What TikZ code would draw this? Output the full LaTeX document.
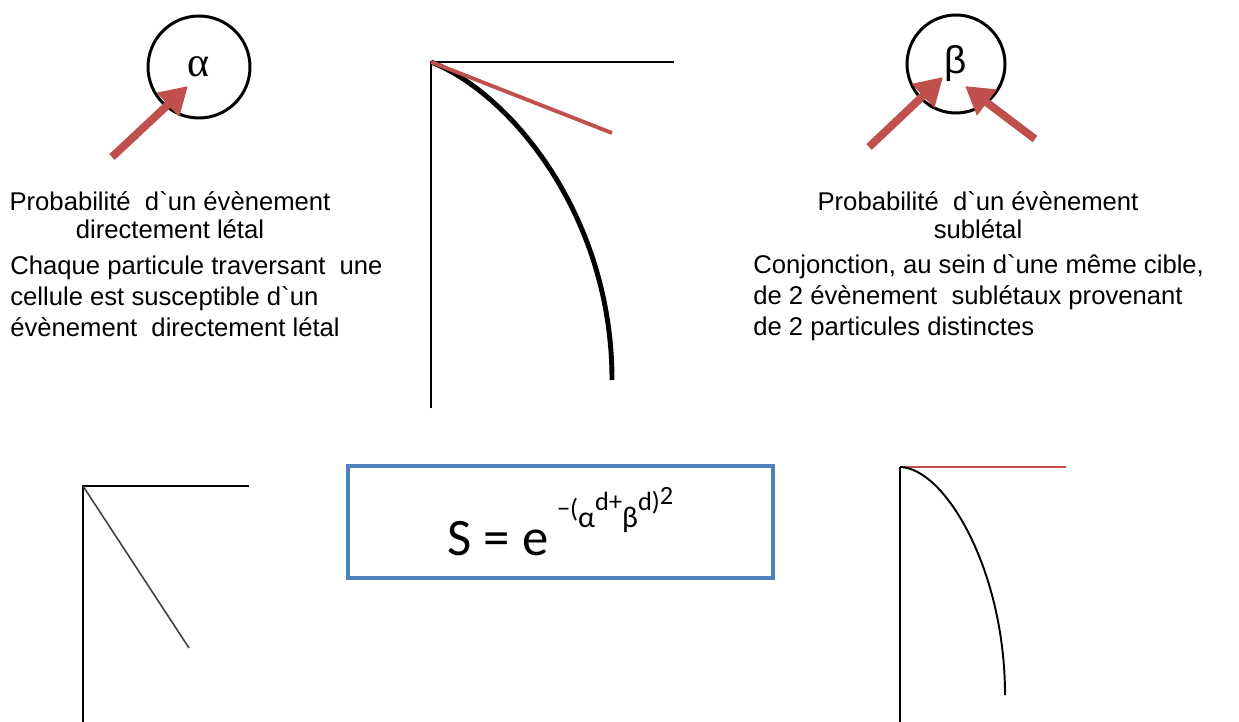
\documentclass[tikz,border=0pt]{standalone}
\usepackage{fontspec}
\setmainfont{Liberation Sans}
\newfontfamily\greekserif{Liberation Serif}
\newfontfamily\eqfont{Carlito}
\usetikzlibrary{positioning,arrows.meta}
\definecolor{HitRed}{RGB}{192,80,77}
\definecolor{FrameBlue}{RGB}{79,129,189}
\tikzset{
  hit/.style={-{Triangle[length=5.5mm,width=6.2mm]},line width=4.5pt,draw=HitRed},
  target/.style={circle,draw,line width=1.7pt,minimum size=2.04cm,inner sep=0pt},
  axis/.style={draw=black,line width=0.9pt},
  thickcurve/.style={draw=black,line width=2.8pt},
  thincurve/.style={draw=black,line width=1.1pt},
  tangent/.style={draw=HitRed,line width=2.2pt},
  thintangent/.style={draw=HitRed,line width=0.9pt},
  formulabox/.style={draw=FrameBlue,line width=2pt,minimum width=8.5cm,
    minimum height=2.24cm,inner sep=0pt},
  caption/.style={font=\fontsize{14.6}{16.5}\selectfont,inner sep=0pt,align=center},
  remark/.style={font=\fontsize{14.6}{17.7}\selectfont,inner sep=0pt,align=left}
}

\begin{document}
\begin{tikzpicture}[x=0.02cm,y=-0.02cm]
  \useasboundingbox (0,0) rectangle (1239,722);

  % lethal hit
  \node[target,font=\greekserif\fontsize{24}{24}\selectfont] (alpha) at (199,67) {α};
  \coordinate (atail) at (112,157);
  \coordinate (atip) at (188,86);
  \draw[hit] (atail) -- (atip);
  \node[caption,anchor=base] (alphatitle) at (170,239)
    {Probabilité~ d\textasciigrave un évènement\\directement létal};
  \node[remark,anchor=base west] (alphatext) at (10,337)
    {Chaque particule traversant~ une\\cellule est susceptible d\textasciigrave un\\évènement~ directement létal};

  % sublethal hits
  \node[target,minimum size=1.96cm,font=\fontsize{22}{22}\selectfont] (beta) at (956,64) {β};
  \coordinate (btailL) at (869,147);
  \coordinate (btipL) at (943,77);
  \coordinate (btailR) at (1035,139);
  \coordinate (btipR) at (965,86);
  \draw[hit] (btailL) -- (btipL);
  \draw[hit] (btailR) -- (btipR);
  \node[caption,anchor=base] (betatitle) at (978,239)
    {Probabilité~ d\textasciigrave un évènement\\sublétal};
  \node[remark,anchor=base west] (betatext) at (753,336)
    {Conjonction, au sein d\textasciigrave une même cible,\\de 2 évènement~ sublétaux provenant\\de 2 particules distinctes};

  % survival curve with tangent
  \coordinate (orig) at (431,62);
  \draw[axis] (431,408) -- (orig) -- (674,62);
  \draw[thickcurve] (orig) .. controls (510,93) and (612,215) .. (612,380);
  \draw[tangent] (orig) -- (612,133);

  % linear part
  \coordinate (origL) at (83,486);
  \draw[axis] (83,722) -- (origL) -- (249,486);
  \draw[axis,draw=black!75] (origL) -- (189,648);

  % formula
  \node[formulabox] (surv) at (560.5,522)
    {\eqfont\fontsize{30}{30}\selectfont S = e\,\raisebox{26pt}{\fontsize{15}{15}\selectfont
      \raisebox{-4pt}{−(}\raisebox{-10pt}{\fontsize{17}{17}\selectfont α}d+\raisebox{-10pt}{\fontsize{17}{17}\selectfont β}d)\raisebox{3pt}{2}}};

  % quadratic part
  \coordinate (origR) at (900,467);
  \draw[axis] (900,722) -- (origR);
  \draw[thintangent] (origR) -- (1066,467);
  \draw[thincurve] (origR) .. controls (945,468) and (1005,570) .. (1005,695);
\end{tikzpicture}
\end{document}
